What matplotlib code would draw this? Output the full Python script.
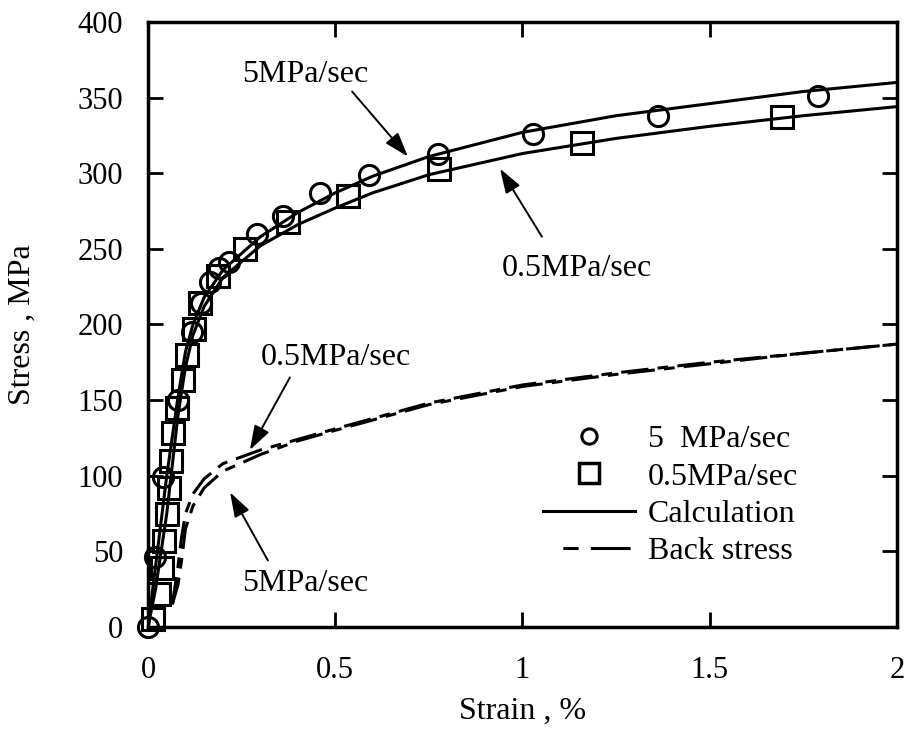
import matplotlib.pyplot as plt
from matplotlib.lines import Line2D

plt.rcParams["font.family"] = ["Liberation Serif", "DejaVu Serif"]

# measured points, 5 MPa/sec
strain_fast = [0.0, 0.019, 0.04, 0.08, 0.118, 0.141, 0.166, 0.19, 0.217,
               0.29, 0.36, 0.46, 0.59, 0.775, 1.028, 1.362, 1.79]
stress_fast = [0, 46, 99, 150, 195, 214, 228, 237, 241,
               260, 272, 287, 299, 313, 326, 338, 351]

# measured points, 0.5 MPa/sec
strain_slow = [0.014, 0.03, 0.037, 0.042, 0.05, 0.056, 0.06, 0.068, 0.077,
               0.093, 0.104, 0.122, 0.139, 0.187, 0.259, 0.374, 0.534,
               0.777, 1.159, 1.693]
stress_slow = [5, 22, 39, 57, 75, 92, 110, 128, 145,
               163, 180, 197, 214, 232, 250, 268, 285,
               303, 320, 337]

# calculated curves
calc_strain = [0.0, 0.02, 0.05, 0.08, 0.1, 0.12, 0.15, 0.2, 0.3, 0.4, 0.5,
               0.6, 0.75, 1.0, 1.25, 1.5, 1.75, 2.0]
calc_fast = [0, 40, 100, 152, 182, 200, 218, 236, 258, 274, 287,
             298, 311, 327, 338, 346, 354, 360]
calc_slow = [0, 25, 75, 140, 172, 193, 212, 231, 252, 266, 277,
             287, 299, 313, 323, 331, 338, 344]

# back stress
back_strain = [0.065, 0.08, 0.09, 0.1, 0.12, 0.15, 0.2, 0.3, 0.4, 0.5,
               0.75, 1.0, 1.25, 1.5, 1.75, 2.0]
back_slow = [15, 40, 60, 75, 88, 98, 108, 117, 124, 131,
             148, 160, 168, 175, 181, 187]
back_fast = [15, 28, 45, 65, 80, 92, 103, 114, 123, 130,
             147, 159, 167, 174, 181, 187]

fig = plt.figure(figsize=(9.11, 7.31), dpi=100)
ax = fig.add_axes([0.1625, 0.1423, 0.822, 0.8277])

dash = (0, (9, 3, 3.5, 3))
ax.plot(calc_strain, calc_fast, color="black", lw=2.2)
ax.plot(calc_strain, calc_slow, color="black", lw=2.2)
ax.plot(back_strain, back_slow, color="black", lw=2.2, linestyle=dash)
ax.plot(back_strain, back_fast, color="black", lw=2.2, linestyle=dash)
ax.plot(strain_fast, stress_fast, "o", ms=14.5, mfc="none", mec="black",
        mew=2.2, clip_on=False)
ax.plot(strain_slow, stress_slow, "s", ms=16.5, mfc="none", mec="black",
        mew=2.2, clip_on=False)

ax.set_xlim(0, 2)
ax.set_ylim(0, 400)
ax.set_xticks([0, 0.5, 1, 1.5, 2])
ax.set_xticklabels(["0", "0.5", "1", "1.5", "2"])
ax.set_yticks(range(0, 401, 50))
ax.tick_params(direction="in", length=11, width=2, top=True, right=True,
               labelsize=22)
ax.tick_params(axis="x", pad=21)
ax.tick_params(axis="y", pad=18)
for s in ax.spines.values():
    s.set_linewidth(2.5)
ax.set_xlabel("Strain , %", fontsize=23, va="center")
ax.set_ylabel("Stress , MPa", fontsize=23, va="center")
ax.xaxis.set_label_coords(0.5, -0.14)
ax.yaxis.set_label_coords(-0.168, 0.5)

arrow = dict(arrowstyle="-|>,head_length=1.5,head_width=0.5", color="black",
             lw=1.4, shrinkA=0, shrinkB=0)
notes = [
    ("5MPa/sec", (0.694, 311), (0.545, 354), (0.42, 365)),
    ("0.5MPa/sec", (0.94, 303), (1.052, 258), (1.144, 237)),
    ("0.5MPa/sec", (0.272, 117), (0.379, 165), (0.502, 178)),
    ("5MPa/sec", (0.219, 89), (0.32, 44), (0.42, 29)),
]
for label, tip, tail, pos in notes:
    ax.annotate("", xy=tip, xytext=tail, arrowprops=arrow)
    ax.text(pos[0], pos[1], label, fontsize=23, ha="center", va="center")

handles = [
    Line2D([], [], ls="none", marker="o", ms=11, mfc="none", mec="black", mew=2.2),
    Line2D([], [], ls="none", marker="s", ms=14, mfc="none", mec="black", mew=2.5),
    Line2D([], [], color="black", lw=2.2),
    Line2D([], [], color="black", lw=2.2, linestyle=(22, (5, 4, 13, 6.5))),
]
ax.legend(handles, ["5  MPa/sec", "0.5MPa/sec", "Calculation", "Back stress"],
          loc="upper left", bbox_to_anchor=(0.527, 0.334), frameon=False,
          borderpad=0, borderaxespad=0, fontsize=23, handlelength=2.9,
          handletextpad=0.4, labelspacing=0.25)

fig.savefig("out.png", dpi=100)
